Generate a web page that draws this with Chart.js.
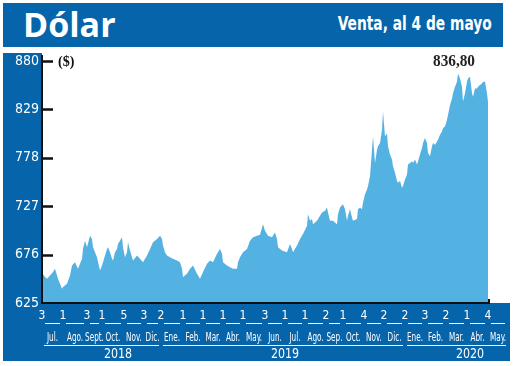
<!DOCTYPE html>
<html>
<head>
<meta charset="utf-8">
<script src="https://cdn.jsdelivr.net/npm/chart.js@4/dist/chart.umd.min.js"></script>
<style>
html,body{margin:0;padding:0;background:#fff;}
#wrap{position:relative;width:520px;height:366px;overflow:hidden;background:#fff;}
.blue{position:absolute;background:#0664aa;}
#hdr{left:3px;top:3px;width:500px;height:44px;}
#lp{left:3px;top:53px;width:39px;height:252px;}
#bp{left:3px;top:303px;width:507px;height:58px;}
.txt{position:absolute;white-space:nowrap;}
#title{left:23px;top:7px;font:bold 34px/34px 'Open Sans',sans-serif;color:#fff;}
#sub{right:28px;top:14px;font:bold 19px/19px 'Liberation Sans Narrow','DejaVu Sans Condensed',sans-serif;color:#fff;transform-origin:right center;}
#unit{left:58px;top:55px;font:bold 14px/14px 'Liberation Serif',serif;color:#111;}
#last{left:433px;top:52px;font:bold 17px/17px 'Liberation Serif',serif;color:#222;transform-origin:left center;}
canvas{position:absolute;left:0;top:0;}
</style>
</head>
<body>
<div id="wrap">
  <div class="blue" id="hdr"></div>
  <div class="blue" id="lp"></div>
  <div class="blue" id="bp"></div>
  <div class="txt" id="title">Dólar</div>
  <div class="txt" id="sub">Venta, al 4 de mayo</div>
  <canvas id="c" width="520" height="366"></canvas>
  <div class="txt" id="unit">($)</div>
  <div class="txt" id="last"></div>
</div>
<script>
// trading-session index (0 = 3 Jul 2018) and dollar sale value (CLP)
const session = [0,3,5,8,11,13,16,20,21,25,28,30,33,36,40,41,43,45,48,50,51,55,58,60,63,65,66,68,70,71,73,75,76,80,81,83,85,86,88,90,91,95,98,101,105,108,111,115,118,120,121,123,125,128,131,135,138,140,141,145,148,151,155,158,161,165,168,171,175,178,180,181,185,188,191,195,196,198,201,205,208,211,215,218,221,223,226,230,233,235,236,240,245,248,250,251,255,258,261,265,266,268,270,271,275,278,280,283,285,286,288,291,295,296,298,301,303,305,306,308,310,311,315,316,318,320,321,323,325,326,328,330,331,333,335,336,338,340,341,343,345,346,348,350,351,353,355,356,358,360,361,363,365,366,368,370,371,373,375,376,378,380,381,383,385,386,388,390,391,393,395,396,398,400,401,403,405,406,408,410,411,413,415,416,418,420,421,423,425,426,428,430,431,433,435,436,438,440,441,443,445,446];
const values = [657,652.3,650.6,654.1,657.6,661.1,650.6,640.1,641.9,645.4,654.1,664.6,668.0,661.1,671.5,682.0,690.7,683.7,695.9,692.4,683.7,673.3,659.3,664.6,675.0,682.0,683.7,678.5,671.5,669.8,678.5,682.0,687.2,694.2,683.7,673.3,678.5,688.9,680.3,673.3,669.8,675.0,671.5,668.0,675.0,682.0,688.9,692.4,695.9,692.4,685.5,678.5,675.0,673.3,671.5,669.8,668.0,661.1,652.3,655.8,661.1,664.6,655.8,650.6,657.6,666.3,669.8,668.0,676.8,682.0,676.8,668.0,664.6,662.8,661.1,661.1,668.0,673.3,678.5,682.0,690.7,694.2,695.9,697.0,708.1,701.2,695.9,694.2,699.4,692.4,683.7,680.3,678.5,687.2,682.0,678.5,685.5,692.4,697.7,706.4,718.6,711.6,713.4,708.1,711.6,716.9,720.3,722.1,725.6,720.3,711.6,711.6,708.1,718.6,725.6,729.1,723.8,711.6,716.9,723.8,715.1,711.6,713.4,723.8,725.6,723.8,730.8,739.5,744.7,748.2,758.7,786.6,800.5,772.6,786.6,790.1,793.6,807.5,826.7,800.5,804.0,790.1,781.4,776.1,769.2,762.2,753.5,751.7,753.5,746.5,748.2,755.2,760.4,770.9,772.6,774.4,772.6,776.1,770.9,774.4,781.4,788.3,793.6,798.8,793.6,783.1,779.6,790.1,793.6,791.8,795.3,797.0,802.3,805.8,809.3,811.0,818.0,823.2,833.7,840.6,845.9,852.8,858.1,866.8,861.6,852.8,837.2,845.9,858.1,861.6,863.3,845.9,842.4,851.1,851.1,852.8,854.6,856.3,858.1,858.1,845.9,836.8];

// x axis: first session of each month, its day number and month name
const monthStart = [0,21,45,60,82,102,119,141,161,181,201,223,243,263,284,301,322,342,363,383,404,425,446];
const periodEnd = 466;
const dayNumbers = ['3','1','3','1','5','3','2','1','1','1','1','3','1','1','2','1','4','2','2','3','2','1','4'];
const monthNames = ['Jul.','Ago.','Sept.','Oct.','Nov.','Dic.','Ene.','Feb.','Mar.','Abr.','May.','Jun.','Jul.','Ago.','Sep.','Oct.','Nov.','Dic.','Ene.','Feb.','Mar.','Abr.','May.'];
const yearLabels = ['2018','2019','2020'];
const yearFirstMonth = [0,6,18];
const yearLabelAt = [76,243,428];
const yTicks = [625,676,727,778,829,880];

const NARROW = "'Liberation Sans Narrow','DejaVu Sans Condensed','Roboto',sans-serif";

document.getElementById('last').textContent = values[values.length-1].toFixed(2).replace('.', ',');

function fitWidth(id, target){
  const el = document.getElementById(id);
  const w = el.getBoundingClientRect().width;
  if (w > 0) el.style.transform = 'scaleX(' + (target / w) + ')';
}
fitWidth('sub', 154);
fitWidth('last', 42);

function narrowText(ctx, text, x, y, size, sx){
  ctx.save();
  ctx.translate(x, y);
  ctx.scale(sx, 1);
  ctx.font = size + 'px ' + NARROW;
  ctx.textAlign = 'center';
  ctx.textBaseline = 'middle';
  ctx.fillText(text, 0, 0);
  ctx.restore();
}

const decor = {
  id: 'decor',
  afterDraw(chart){
    const {ctx, chartArea: a, scales: {x, y}} = chart;
    ctx.save();
    // axes
    ctx.strokeStyle = '#111';
    ctx.lineWidth = 2;
    ctx.beginPath();
    ctx.moveTo(a.left, 55);
    ctx.lineTo(a.left, a.bottom);
    ctx.lineTo(x.getPixelForValue(x.max) + 1, a.bottom);
    ctx.lineTo(x.getPixelForValue(x.max) + 1, a.bottom - 4);
    ctx.stroke();
    // inward y tick marks
    ctx.lineWidth = 2.5;
    ctx.beginPath();
    yTicks.forEach(v => {
      if (v === y.min) return;
      const py = Math.round(y.getPixelForValue(v)) + 0.5;
      ctx.moveTo(a.left, py);
      ctx.lineTo(a.left + 11, py);
    });
    ctx.stroke();
    // month segments and names
    ctx.strokeStyle = '#ffffff';
    ctx.fillStyle = '#ffffff';
    ctx.lineWidth = 1;
    const segY = a.bottom + 20.5;
    monthStart.forEach((s, i) => {
      const e = i + 1 < monthStart.length ? monthStart[i+1] : periodEnd;
      const x0 = x.getPixelForValue(s), x1 = x.getPixelForValue(e);
      ctx.beginPath();
      ctx.moveTo(x0 + 3, segY);
      ctx.lineTo(x1 - 3, segY);
      ctx.stroke();
      narrowText(ctx, monthNames[i], (x0 + x1) / 2, a.bottom + 35, 11.5, 0.7);
    });
    // year spans and labels
    const yrY = a.bottom + 42.5;
    yearLabels.forEach((lab, i) => {
      const s = monthStart[yearFirstMonth[i]];
      const e = i + 1 < yearLabels.length ? monthStart[yearFirstMonth[i+1]] : periodEnd;
      ctx.beginPath();
      ctx.moveTo(x.getPixelForValue(s) + 2, yrY);
      ctx.lineTo(x.getPixelForValue(e) - 2, yrY);
      ctx.stroke();
      narrowText(ctx, lab, x.getPixelForValue(yearLabelAt[i]), a.bottom + 51, 14, 0.88);
    });
    ctx.restore();
  }
};

new Chart(document.getElementById('c'), {
  type: 'line',
  data: {
    datasets: [{
      data: session.map((s, i) => ({x: s, y: values[i]})),
      borderWidth: 0,
      borderColor: '#54b2e2',
      backgroundColor: '#54b2e2',
      fill: 'start',
      pointRadius: 0,
      tension: 0
    }]
  },
  options: {
    responsive: false,
    devicePixelRatio: 1,
    animation: false,
    layout: {padding: {top: 61, right: 32, bottom: 0, left: 0}},
    plugins: {legend: {display: false}, tooltip: {enabled: false}},
    scales: {
      x: {
        type: 'linear', min: 0, max: 446,
        afterBuildTicks: s => { s.ticks = monthStart.map(v => ({value: v})); },
        afterFit: s => { s.height = 63; },
        grid: {display: false, drawTicks: false},
        border: {display: false},
        ticks: {
          color: '#fff', padding: 6, autoSkip: false, maxRotation: 0,
          font: {family: NARROW, size: 12},
          callback: (v, i) => dayNumbers[i]
        }
      },
      y: {
        min: 625, max: 880,
        afterBuildTicks: s => { s.ticks = yTicks.map(v => ({value: v})); },
        afterFit: s => { s.width = 42; },
        grid: {display: false, drawTicks: false},
        border: {display: false},
        ticks: {
          color: '#fff', padding: 3,
          font: {family: NARROW, size: 14},
          callback: v => String(v)
        }
      }
    }
  },
  plugins: [decor]
});
</script>
</body>
</html>
